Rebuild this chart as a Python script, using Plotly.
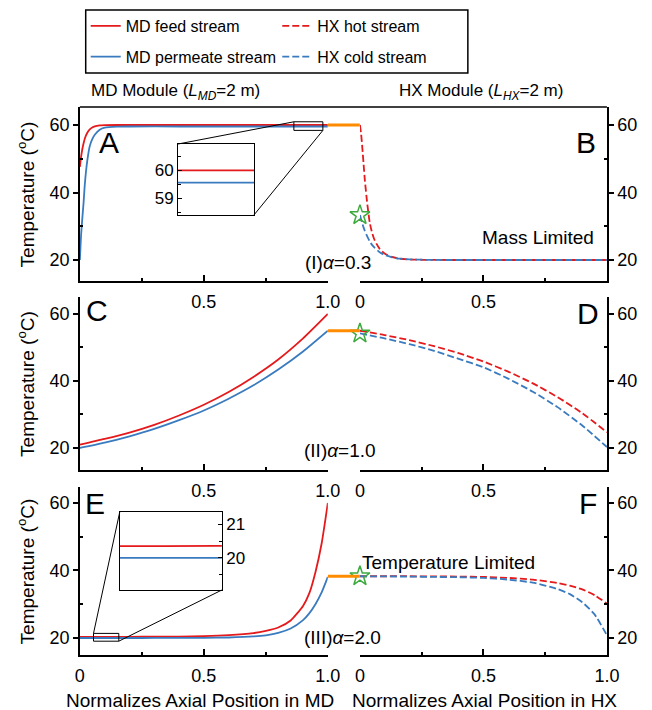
import plotly.graph_objects as go

# ---------------- data ----------------
# Row I  (alpha = 0.3)
md1_x = [0, 0.005, 0.01, 0.015, 0.02, 0.03, 0.04, 0.05, 0.06, 0.08, 0.1, 0.15, 0.2, 0.4, 0.6, 0.8, 1.0]
md1_feed = [47.6, 50.6, 52.9, 54.6, 56.0, 57.7, 58.7, 59.25, 59.57, 59.86, 59.95, 60.0, 60.0, 60.0, 60.0, 60.0, 60.0]
md1_perm = [20.0, 27.5, 32.5, 37.0, 42.5, 49.5, 53.8, 55.8, 57.1, 58.6, 59.2, 59.5, 59.56, 59.56, 59.56, 59.56, 59.56]
hx1_x = [0, 0.005, 0.01, 0.015, 0.02, 0.03, 0.04, 0.05, 0.06, 0.08, 0.1, 0.13, 0.16, 0.2, 0.3, 0.5, 1.0]
hx1_hot = [60.0, 57.2, 53.0, 48.3, 43.6, 36.5, 31.0, 27.9, 25.8, 23.3, 21.9, 20.9, 20.4, 20.15, 20.02, 20.0, 20.0]
hx1_cold = [33.3, 32.0, 30.7, 29.6, 28.6, 26.9, 25.5, 24.4, 23.6, 22.3, 21.5, 20.8, 20.4, 20.2, 20.02, 20.0, 20.0]

# Row II (alpha = 1.0)
md2_x = [0, 0.1, 0.2, 0.3, 0.4, 0.5, 0.6, 0.7, 0.8, 0.9, 1.0]
md2_feed = [21.0, 22.7, 24.6, 26.9, 29.7, 32.9, 36.7, 41.2, 46.4, 52.7, 60.0]
md2_perm = [20.0, 21.6, 23.5, 25.7, 28.3, 31.2, 34.7, 38.7, 43.4, 48.8, 55.0]
hx2_x = [0, 0.1, 0.2, 0.3, 0.4, 0.5, 0.6, 0.7, 0.8, 0.9, 1.0]
hx2_hot = [55.0, 53.7, 52.2, 50.4, 48.3, 45.8, 42.8, 39.3, 35.2, 30.4, 24.7]
hx2_cold = [54.2, 52.7, 51.0, 49.0, 46.6, 44.1, 40.7, 36.8, 32.2, 26.7, 20.3]

# Row III (alpha = 2.0)
md3_x = [0, 0.1, 0.2, 0.3, 0.4, 0.5, 0.6, 0.7, 0.75, 0.8, 0.85, 0.9, 0.925, 0.95, 0.975, 1.0]
md3_feed = [20.35, 20.35, 20.36, 20.38, 20.42, 20.55, 20.85, 21.45, 22.1, 23.1, 25.2, 29.5, 33.2, 39.5, 48.0, 60.0]
md3_perm = [20.0, 20.0, 20.0, 20.01, 20.02, 20.05, 20.15, 20.45, 20.8, 21.5, 22.8, 25.3, 27.3, 30.0, 33.5, 38.1]
hx3_x = [0, 0.1, 0.2, 0.3, 0.4, 0.5, 0.6, 0.7, 0.8, 0.85, 0.9, 0.95, 1.0]
hx3_hot = [38.3, 38.3, 38.3, 38.25, 38.2, 38.1, 37.8, 37.3, 36.3, 35.5, 34.4, 32.7, 30.2]
hx3_cold = [38.3, 38.25, 38.2, 38.1, 38.0, 37.8, 37.3, 36.4, 34.5, 33.0, 30.6, 27.0, 20.8]

row_labels = ["(I)<i>α</i>=0.3", "(II)<i>α</i>=1.0", "(III)<i>α</i>=2.0"]
panel_letters = [("A", "B"), ("C", "D"), ("E", "F")]
# labelled x ticks per row (the unlabelled end ticks coincide with the spines)
md_xticks = [[0.5, 1.0], [0.5, 1.0], [0, 0.5, 1.0]]
md_xtext = [["0.5", "1.0"], ["0.5", "1.0"], ["0", "0.5", "1.0"]]
hx_xticks = [[0, 0.5], [0, 0.5], [0, 0.5, 1.0]]
hx_xtext = [["0", "0.5"], ["0", "0.5"], ["0", "0.5", "1.0"]]
x_minor = [0.25, 0.75]
y_ticks = [20, 40, 60]
y_minor = [30, 50]

# zoom windows (x range, y range) for the two insets
inset1_xr, inset1_yr = [0.863, 0.98], [58.4, 60.95]
inset1_ticks, inset1_minor = [59, 60], [58.5, 59.5, 60.5]
inset3_xr, inset3_yr = [0.055, 0.157], [19.05, 21.36]
inset3_ticks, inset3_minor = [20, 21], [19.5, 20.5]

# ---------------- styling / geometry ----------------
W, H = 652, 710
FONT = "Liberation Sans"
RED, BLUE, ORANGE, GREEN = "#e41a1c", "#3a7bbf", "#ff8c00", "#3daa3d"
DASH = "7px,3px"

MD_X = (77, 332)
HX_X = (365, 619)
ROW_Y = [(107, 281), (297, 470), (487, 655)]
ROW_RANGE = [[13.78, 65.33], [13.43, 65.07], [14.96, 64.74]]


def fx(px):
    return px / W


def fy(py):
    return 1 - py / H


rows = [
    (md1_x, md1_feed, md1_perm, hx1_x, hx1_hot, hx1_cold),
    (md2_x, md2_feed, md2_perm, hx2_x, hx2_hot, hx2_cold),
    (md3_x, md3_feed, md3_perm, hx3_x, hx3_hot, hx3_cold),
]

fig = go.Figure()


def line(x, y, xa, ya, color, dash=None, name=None, legend="legend", show=False, width=1.8):
    fig.add_trace(go.Scatter(
        x=x, y=y, mode="lines", xaxis=xa, yaxis=ya, name=name, legend=legend,
        legendgroup=name, showlegend=show, hoverinfo="skip",
        line=dict(color=color, width=width, dash=dash, shape="spline", smoothing=0.6)))


layout = {}
for i, (mx, feed, perm, hx, hot, cold) in enumerate(rows):
    n_md, n_hx, n_gap = 2 * i + 1, 2 * i + 2, 9 + i
    xa_md, ya_md = f"x{n_md}", f"y{n_md}"
    xa_hx, ya_hx = f"x{n_hx}", f"y{n_hx}"
    first = i == 0
    line(mx, feed, xa_md, ya_md, RED, name="MD feed stream", legend="legend", show=first)
    line(mx, perm, xa_md, ya_md, BLUE, name="MD permeate stream", legend="legend", show=first)
    line(hx, hot, xa_hx, ya_hx, RED, dash=DASH, name="HX hot stream", legend="legend2", show=first)
    line(hx, cold, xa_hx, ya_hx, BLUE, dash=DASH, name="HX cold stream", legend="legend2", show=first)
    # connector between MD outlet and HX hot inlet
    fig.add_trace(go.Scatter(x=[0, 1], y=[hot[0], hot[0]], mode="lines",
                             xaxis=f"x{n_gap}", yaxis=f"y{n_gap}", showlegend=False,
                             hoverinfo="skip", line=dict(color=ORANGE, width=3)))
    # cold-stream inlet marker
    fig.add_trace(go.Scatter(x=[hx[0]], y=[cold[0]], mode="markers", xaxis=xa_hx, yaxis=ya_hx,
                             showlegend=False, hoverinfo="skip", cliponaxis=False,
                             marker=dict(symbol="star-open", size=15, color=GREEN,
                                         line=dict(color=GREEN, width=1.5))))

    ydom = [fy(ROW_Y[i][1]), fy(ROW_Y[i][0])]
    common_x = dict(range=[0, 1], showline=True, linecolor="black", linewidth=1.5,
                    showgrid=False, zeroline=False, ticks="inside", ticklen=6, tickwidth=1.5,
                    tickcolor="black", ticklabelstandoff=4,
                    tickfont=dict(size=18, color="black", family=FONT),
                    minor=dict(tickvals=x_minor, ticks="inside", ticklen=3, tickwidth=1.5,
                               tickcolor="black", showgrid=False))
    common_y = dict(range=ROW_RANGE[i], domain=ydom, showline=True, linecolor="black",
                    linewidth=1.5, showgrid=False, zeroline=False, ticks="outside", ticklen=5,
                    tickwidth=1.5, tickcolor="black", tickvals=y_ticks,
                    tickfont=dict(size=18, color="black", family=FONT),
                    minor=dict(tickvals=y_minor, ticks="inside", ticklen=3, tickwidth=1.5,
                               tickcolor="black", showgrid=False))
    layout[f"xaxis{n_md}"] = dict(common_x, domain=[fx(MD_X[0]), fx(MD_X[1])], anchor=ya_md,
                                  tickvals=md_xticks[i], ticktext=md_xtext[i])
    layout[f"xaxis{n_hx}"] = dict(common_x, domain=[fx(HX_X[0]), fx(HX_X[1])], anchor=ya_hx,
                                  tickvals=hx_xticks[i], ticktext=hx_xtext[i])
    layout[f"yaxis{n_md}"] = dict(common_y, anchor=xa_md, side="left")
    layout[f"yaxis{n_hx}"] = dict(common_y, anchor=xa_hx, side="right")
    layout[f"xaxis{n_gap}"] = dict(domain=[fx(MD_X[1]), fx(HX_X[0])], range=[0, 1],
                                   visible=False, anchor=f"y{n_gap}")
    layout[f"yaxis{n_gap}"] = dict(domain=ydom, range=ROW_RANGE[i], visible=False,
                                   anchor=f"x{n_gap}")

# insets
INSET1_PX = ((178, 256), (144, 215))
INSET3_PX = ((118, 223), (512, 590))


def inset_axes(nx, xr, yr, px, ticks, minor, side):
    (x0, x1), (y0, y1) = px
    layout[f"xaxis{nx}"] = dict(domain=[fx(x0), fx(x1)], range=xr, anchor=f"y{nx}",
                                showline=True, mirror=True, linecolor="black", linewidth=1,
                                showgrid=False, zeroline=False, ticks="", showticklabels=False)
    layout[f"yaxis{nx}"] = dict(domain=[fy(y1), fy(y0)], range=yr, anchor=f"x{nx}", side=side,
                                showline=True, mirror=True, linecolor="black", linewidth=1,
                                showgrid=False, zeroline=False, ticks="inside", ticklen=4,
                                tickwidth=1.2, tickcolor="black", tickvals=ticks,
                                tickfont=dict(size=17, color="black", family=FONT),
                                minor=dict(tickvals=minor, ticks="inside", ticklen=3,
                                           tickwidth=1.2, tickcolor="black", showgrid=False))


inset_axes(7, inset1_xr, inset1_yr, INSET1_PX, inset1_ticks, inset1_minor, "left")
inset_axes(8, inset3_xr, inset3_yr, INSET3_PX, inset3_ticks, inset3_minor, "right")
for nx, (mx, feed, perm, *_ ) in ((7, rows[0]), (8, rows[2])):
    line(mx, feed, f"x{nx}", f"y{nx}", RED, name="MD feed stream")
    line(mx, perm, f"x{nx}", f"y{nx}", BLUE, name="MD permeate stream")


def to_px(row, x, y):
    """data coords of an MD panel -> pixel coords of the page"""
    lo, hi = ROW_RANGE[row]
    top, bot = ROW_Y[row]
    return MD_X[0] + x * (MD_X[1] - MD_X[0]), bot - (y - lo) / (hi - lo) * (bot - top)


shapes = []
# legend frame and top border of the first row
shapes.append(dict(type="rect", xref="paper", yref="paper", x0=fx(83), x1=fx(476),
                   y0=fy(73), y1=fy(10), line=dict(color="black", width=1.5)))
shapes.append(dict(type="line", xref="paper", yref="paper", x0=fx(MD_X[0]), x1=fx(HX_X[1]),
                   y0=fy(ROW_Y[0][0]), y1=fy(ROW_Y[0][0]), line=dict(color="black", width=1.5)))

for row, xa, ya, xr, yr, px in ((0, "x", "y", inset1_xr, inset1_yr, INSET1_PX),
                                (2, "x5", "y5", inset3_xr, inset3_yr, INSET3_PX)):
    shapes.append(dict(type="rect", xref=xa, yref=ya, x0=xr[0], x1=xr[1], y0=yr[0], y1=yr[1],
                       line=dict(color="black", width=1)))
    tlx, tly = to_px(row, xr[0], yr[1])
    brx, bry = to_px(row, xr[1], yr[0])
    (ix0, ix1), (iy0, iy1) = px
    for (ax, ay), (bx, by) in (((tlx, tly), (ix0, iy0)), ((brx, bry), (ix1, iy1))):
        shapes.append(dict(type="line", xref="paper", yref="paper", x0=fx(ax), y0=fy(ay),
                           x1=fx(bx), y1=fy(by), line=dict(color="black", width=1)))

annotations = []


def text(px, py, s, size, angle=0):
    annotations.append(dict(x=fx(px), y=fy(py), xref="paper", yref="paper", text=s,
                            showarrow=False, xanchor="center", yanchor="middle",
                            textangle=angle, font=dict(size=size, color="black", family=FONT)))


text(175, 92, "MD Module (<i>L</i><sub><i>MD</i></sub>=2 m)", 17)
text(489, 92, "HX Module (<i>L</i><sub><i>HX</i></sub>=2 m)", 17)
for i in range(3):
    top, bot = ROW_Y[i]
    text(22, (top + bot) / 2, "Temperature (<sup>o</sup>C)", 19, angle=-90)
text(201, 700, "Normalizes Axial Position in MD", 19)
text(493, 700, "Normalizes Axial Position in HX", 19)

letter_pos = [((107, 143), (598, 143)), ((95, 310), (600, 313)), ((93, 503), (600, 503))]
for (la, lb), ((ax, ay), (bx, by)) in zip(panel_letters, letter_pos):
    text(ax, ay, la, 30)
    text(bx, by, lb, 30)

label_pos = [(342, 263), (345, 450), (347, 637)]
for s, (lx, ly) in zip(row_labels, label_pos):
    text(lx, ly, s, 19)
text(548, 237, "Mass Limited", 19)
text(456, 562, "Temperature Limited", 19)

legend_common = dict(yanchor="top", xanchor="left", bgcolor="rgba(0,0,0,0)", borderwidth=0,
                     font=dict(size=16, color="black", family=FONT), tracegroupgap=7,
                     itemwidth=30)
fig.update_layout(
    width=W, height=H, margin=dict(l=0, r=0, t=0, b=0),
    paper_bgcolor="white", plot_bgcolor="rgba(0,0,0,0)",
    font=dict(family=FONT, color="black"),
    legend=dict(legend_common, x=fx(83), y=fy(9)),
    legend2=dict(legend_common, x=fx(280), y=fy(9)),
    shapes=shapes, annotations=annotations, **layout)

fig.write_html("out.html")
